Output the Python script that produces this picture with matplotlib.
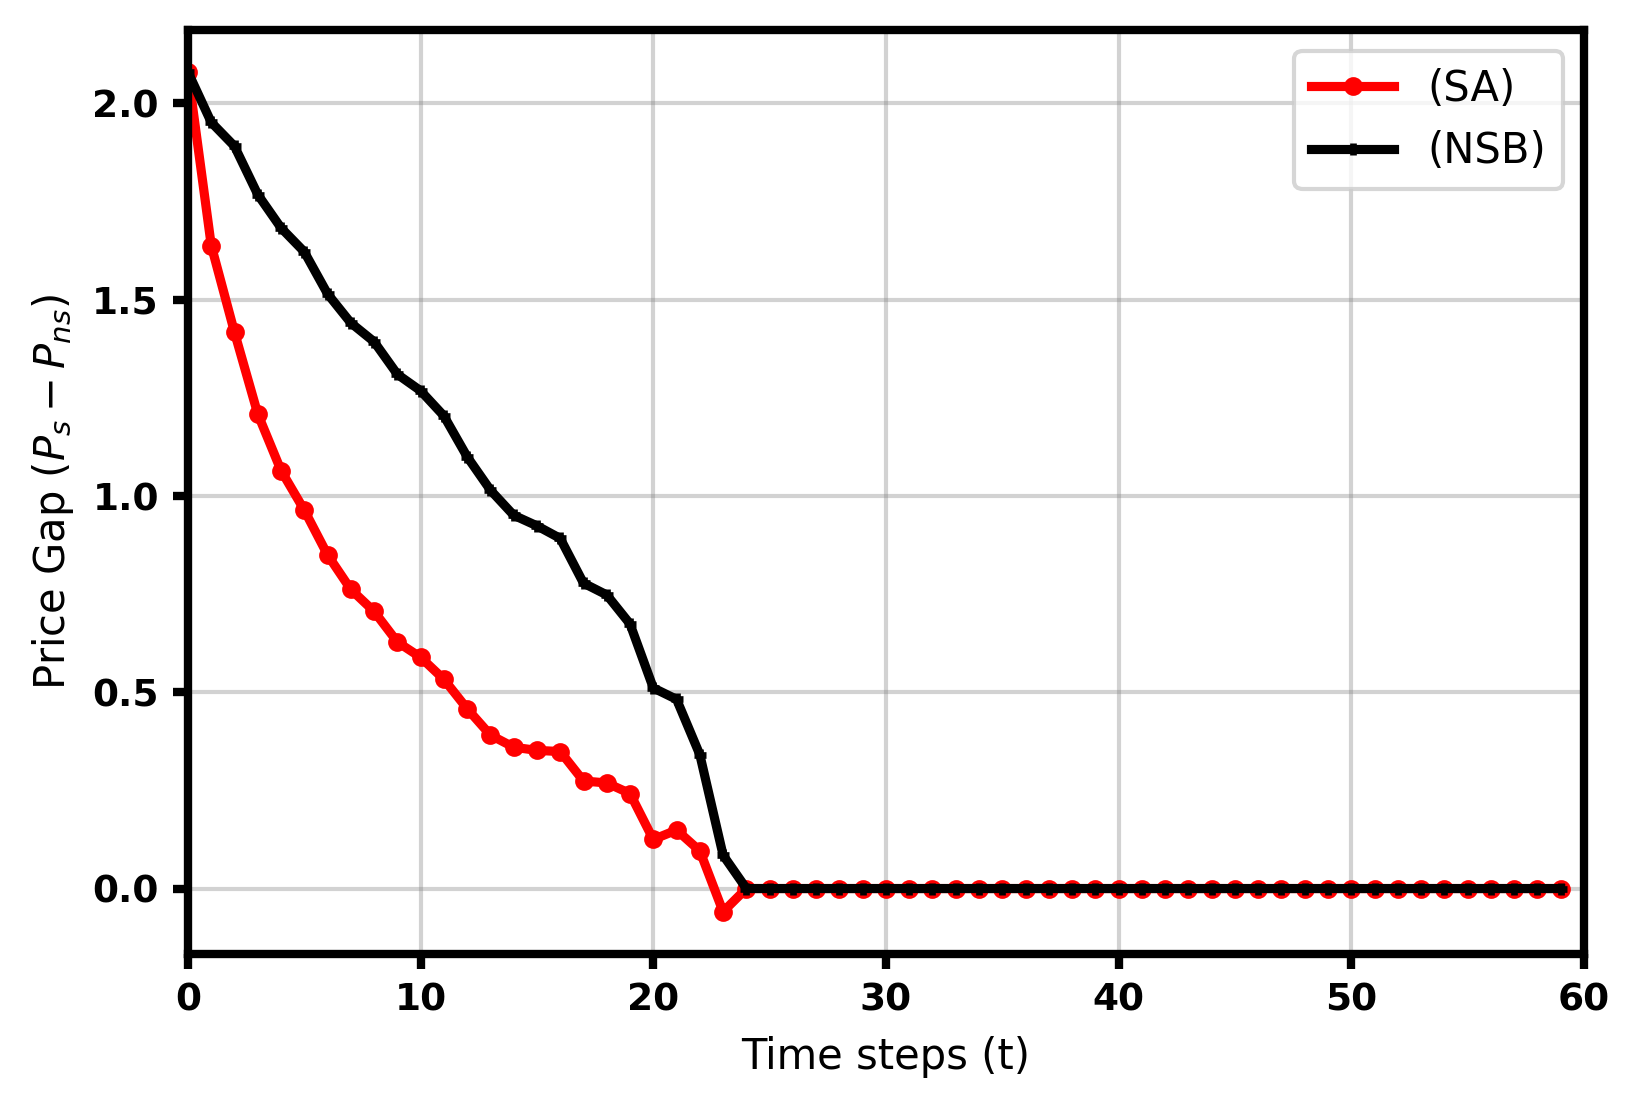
import numpy as np
import matplotlib.pyplot as plt

t = np.arange(60)

sa_head = [2.08, 1.638, 1.417, 1.209, 1.065, 0.964, 0.850, 0.762, 0.706, 0.628,
           0.589, 0.533, 0.458, 0.391, 0.360, 0.352, 0.349, 0.274, 0.269, 0.242,
           0.125, 0.149, 0.096, -0.059]
nsb_head = [2.08, 1.952, 1.891, 1.768, 1.683, 1.622, 1.515, 1.441, 1.393, 1.310,
            1.268, 1.204, 1.100, 1.015, 0.951, 0.924, 0.892, 0.778, 0.748, 0.674,
            0.511, 0.482, 0.341, 0.085]

sa = sa_head + [0.0] * (60 - len(sa_head))
nsb = nsb_head + [0.0] * (60 - len(nsb_head))

fig, ax = plt.subplots(figsize=(1639 / 300, 1107 / 300), dpi=300)
fig.subplots_adjust(left=0.1147, right=0.9664, top=0.9728, bottom=0.1385)

ax.plot(t, sa, color='red', marker='o', markersize=3.5, linewidth=2.2, label='(SA)')
ax.plot(t, nsb, color='black', marker='+', markersize=3, markeredgewidth=1.6,
        linewidth=2.2, label='(NSB)')

ax.set_xlim(0, 60)
ax.set_xlabel('Time steps (t)', fontsize=10)
ax.set_ylabel('Price Gap ($P_s - P_{ns}$)', fontsize=10)
ax.grid(True, color='gray', alpha=0.35, linewidth=1)
ax.set_axisbelow(True)

for s in ax.spines.values():
    s.set_linewidth(2)
ax.tick_params(width=2, length=3.5, labelsize=9)
for lbl in ax.get_xticklabels() + ax.get_yticklabels():
    lbl.set_fontweight('bold')

ax.legend(loc='upper right', fontsize=10)

plt.savefig('out.png', dpi=300)
